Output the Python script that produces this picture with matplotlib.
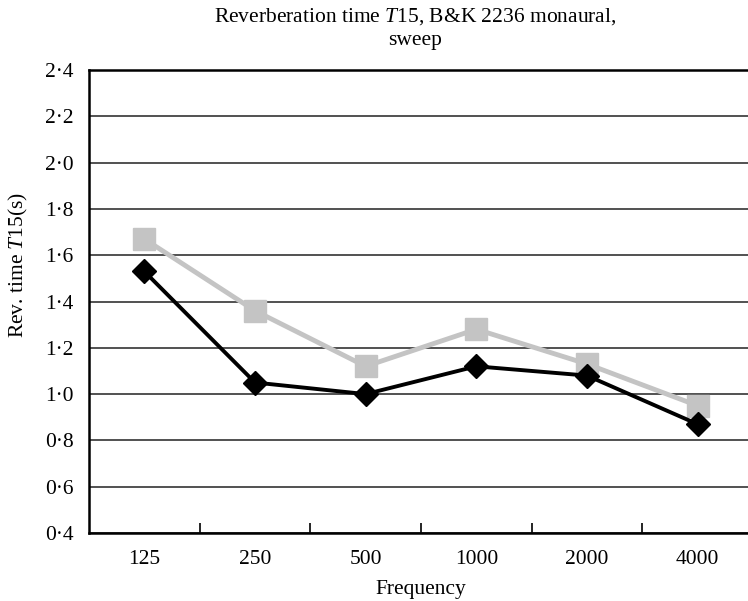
import matplotlib
matplotlib.use("Agg")
import matplotlib.pyplot as plt
from matplotlib.ticker import FixedLocator, FuncFormatter

plt.rcParams["font.family"] = ["Liberation Serif", "DejaVu Serif"]
plt.rcParams["mathtext.fontset"] = "custom"
plt.rcParams["mathtext.rm"] = "Liberation Serif"
plt.rcParams["mathtext.it"] = "Liberation Serif:italic"

frequencies = ["125", "250", "500", "1000", "2000", "4000"]
t15_grey = [1.67, 1.36, 1.12, 1.28, 1.13, 0.95]
t15_black = [1.53, 1.05, 1.00, 1.12, 1.08, 0.87]
y_ticks = [0.4, 0.6, 0.8, 1.0, 1.2, 1.4, 1.6, 1.8, 2.0, 2.2, 2.4]

FS = 15.5

fig = plt.figure(figsize=(7.48, 6.01), dpi=100)
ax = fig.add_axes([89 / 748, 68 / 601, 664 / 748, 463 / 601])

x = list(range(len(frequencies)))
ax.plot(x, t15_grey, color="#c4c4c4", lw=3.5, marker="s", ms=16,
        markeredgecolor="#c4c4c4", zorder=3)
ax.plot(x, t15_black, color="black", lw=2.8, marker="D", ms=12,
        markeredgecolor="black", zorder=4)

ax.set_xlim(-0.5, len(frequencies) - 0.5)
ax.set_ylim(0.4, 2.4)
ax.yaxis.set_major_locator(FixedLocator(y_ticks))
ax.yaxis.set_major_formatter(FuncFormatter(lambda v, p: f"{v:.1f}".replace(".", "\u00b7")))
ax.grid(axis="y", color="#222222", lw=1.1)
ax.set_axisbelow(True)

ax.set_xticks(x)
ax.set_xticklabels(frequencies)
ax.set_xticks([i + 0.5 for i in x[:-1]], minor=True)
ax.tick_params(axis="x", which="major", length=0, pad=12, labelsize=FS)
ax.tick_params(axis="x", which="minor", length=7, width=1.2, direction="in")
ax.tick_params(axis="y", length=0, pad=11, labelsize=FS)

ax.spines["right"].set_visible(False)
for side in ("left", "bottom", "top"):
    ax.spines[side].set_linewidth(1.8)

ax.set_xlabel("Frequency", fontsize=FS, labelpad=8)
fig.text(18 / 748, 1 - 265 / 601, r"Rev. time $\it{T}$15(s)", rotation=90,
         ha="center", va="center", fontsize=FS)

fig.text(415 / 748, 1 - 17 / 601, r"Reverberation time $\it{T}$15, B&K 2236 monaural,",
         ha="center", va="center", fontsize=FS)
fig.text(415 / 748, 1 - 41 / 601, "sweep", ha="center", va="center", fontsize=FS)

fig.savefig("out.png", dpi=100)
